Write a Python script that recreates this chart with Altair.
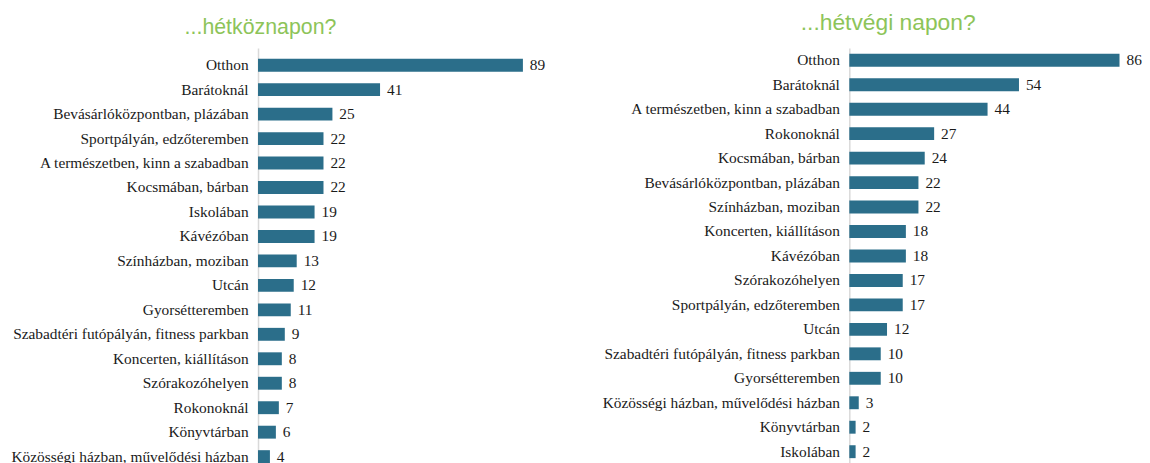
import altair as alt
import pandas as pd

# ---- data ----
weekday_places = [
    "Otthon", "Barátoknál", "Bevásárlóközpontban, plázában", "Sportpályán, edzőteremben",
    "A természetben, kinn a szabadban", "Kocsmában, bárban", "Iskolában", "Kávézóban",
    "Színházban, moziban", "Utcán", "Gyorsétteremben", "Szabadtéri futópályán, fitness parkban",
    "Koncerten, kiállításon", "Szórakozóhelyen", "Rokonoknál", "Könyvtárban",
    "Közösségi házban, művelődési házban",
]
weekday_values = [89, 41, 25, 22, 22, 22, 19, 19, 13, 12, 11, 9, 8, 8, 7, 6, 4]

weekend_places = [
    "Otthon", "Barátoknál", "A természetben, kinn a szabadban", "Rokonoknál",
    "Kocsmában, bárban", "Bevásárlóközpontban, plázában", "Színházban, moziban",
    "Koncerten, kiállításon", "Kávézóban", "Szórakozóhelyen", "Sportpályán, edzőteremben",
    "Utcán", "Szabadtéri futópályán, fitness parkban", "Gyorsétteremben",
    "Közösségi házban, művelődési házban", "Könyvtárban", "Iskolában",
]
weekend_values = [86, 54, 44, 27, 24, 22, 22, 18, 18, 17, 17, 12, 10, 10, 3, 2, 2]

titles = ["...hétköznapon?", "...hétvégi napon?"]

BAR = "#2b6e8a"
GREEN = "#8dc459"
TXT = "#1a1a1a"
SERIF = "Times New Roman, Liberation Serif, serif"


def panel(places, values, title, width, height, xmax, p_outer, align,
          title_size, title_dx, title_dy):
    df = pd.DataFrame({"place": places, "value": values})
    y = alt.Y(
        "place:N", sort=places, title=None,
        scale=alt.Scale(paddingInner=0.473, paddingOuter=p_outer, align=align),
        axis=alt.Axis(ticks=False, domain=True, domainColor="#d9d9d9", domainWidth=1.5,
                      labelFont=SERIF, labelFontSize=15.5, labelColor=TXT,
                      labelPadding=10, labelLimit=400, grid=False),
    )
    x = alt.X("value:Q", scale=alt.Scale(domain=[0, xmax]), axis=None)
    bars = alt.Chart(df).mark_bar(color=BAR).encode(x=x, y=y)
    labels = alt.Chart(df).mark_text(
        align="left", baseline="middle", dx=7, font=SERIF, fontSize=15.5, color=TXT
    ).encode(x=x, y=y, text="value:Q")
    return alt.layer(bars, labels).properties(
        width=width, height=height,
        title=alt.TitleParams(
            title, anchor="start", frame="group", dx=title_dx, dy=title_dy,
            font="Liberation Sans", fontSize=title_size, fontWeight="normal",
            color=GREEN, offset=9.7,
        ),
    )


left = panel(weekday_places, weekday_values, titles[0], 300, 424.2, 100, 0.3375, 0.649,
             21.5, -74, 0)
right = panel(weekend_places, weekend_values, titles[1], 285, 419.2, 90, 0.2365, 0.5,
              23, -49, -3)

chart = alt.hconcat(left, right, spacing=46).properties(
    padding={"left": 2, "top": 2.5, "right": 0, "bottom": 0},
    background="white",
).configure_view(stroke=None)

chart.save("out.html", embed_options={"renderer": "svg", "actions": False})
